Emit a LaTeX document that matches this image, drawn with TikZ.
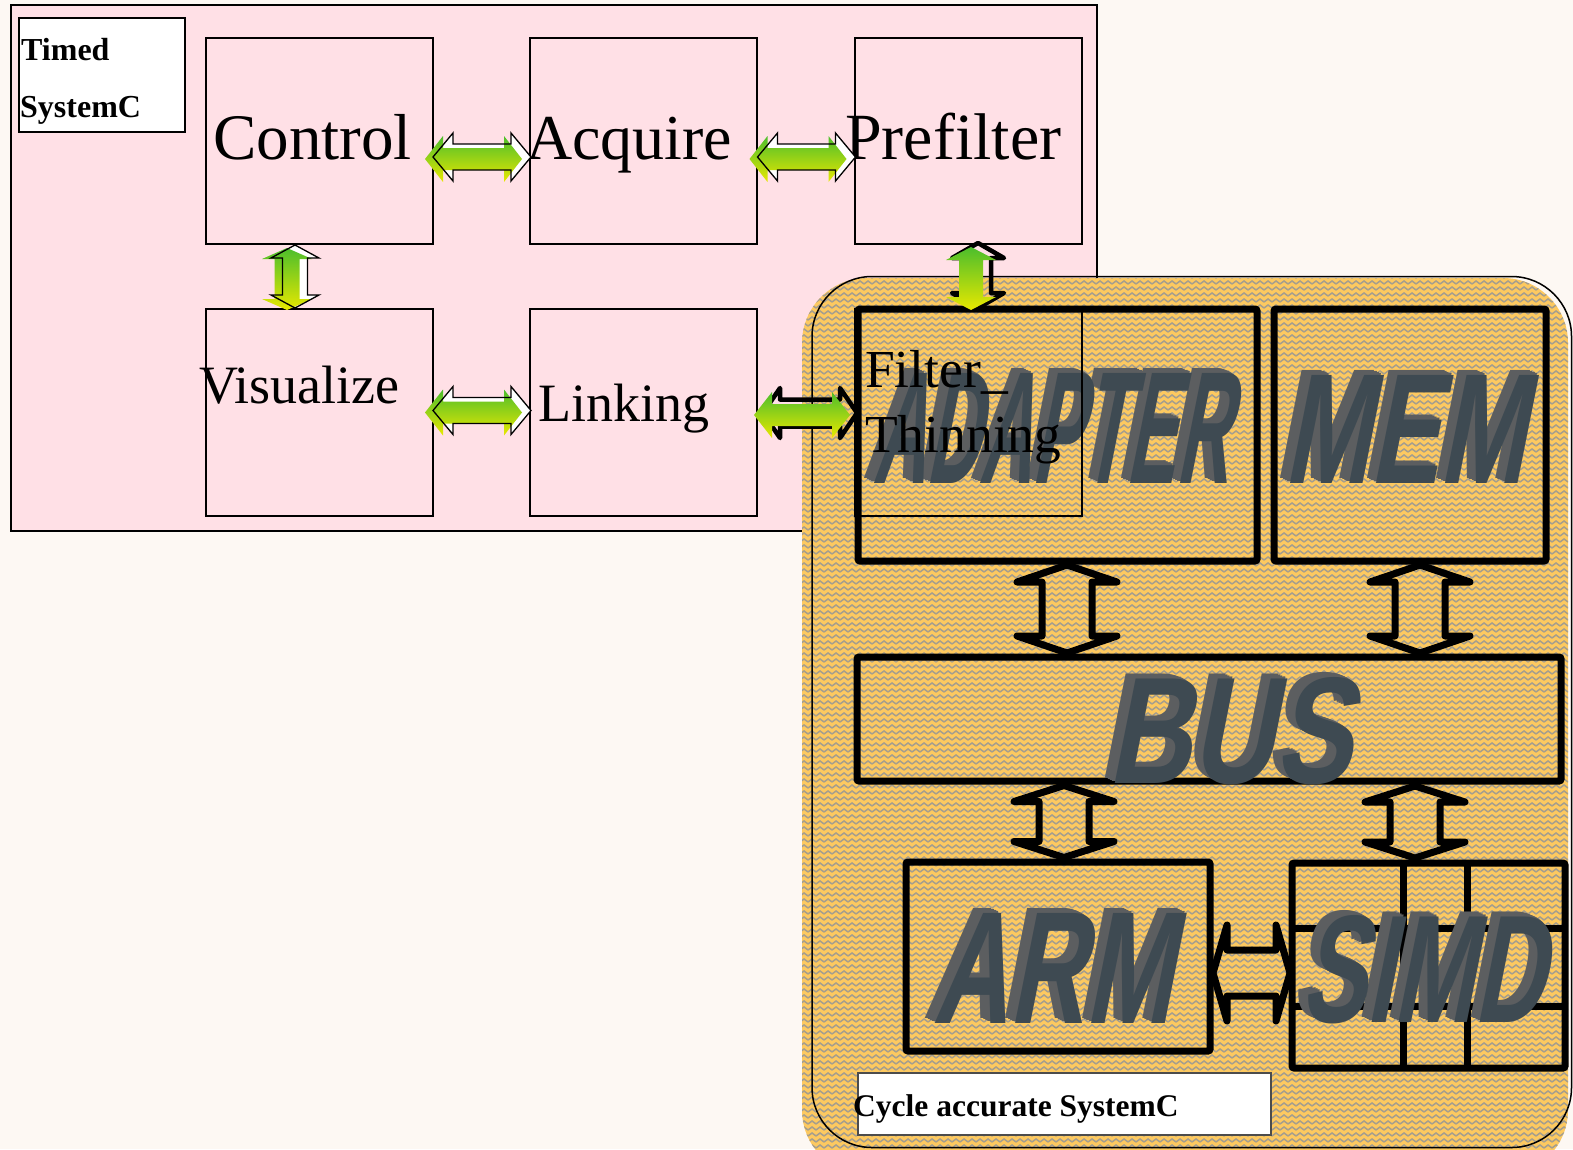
\documentclass[tikz,border=0pt]{standalone}
\usepackage{fontspec}
\usepackage{graphicx}
\setmainfont{Liberation Serif}
\newfontfamily\threedfont{Liberation Sans}
\usetikzlibrary{calc,patterns}

\definecolor{cream}{RGB}{253,248,243}
\definecolor{pinkbg}{RGB}{255,224,230}
\definecolor{ochre}{RGB}{253,201,96}
\definecolor{weave}{RGB}{165,158,142}
\definecolor{agreen}{RGB}{76,190,44}
\definecolor{ayellow}{RGB}{232,232,0}
\definecolor{slate}{RGB}{62,74,82}
\definecolor{slateside}{RGB}{92,94,96}

% woven texture of the cycle-accurate region
\pgfdeclarepatternformonly{herring}{\pgfqpoint{-1pt}{-1pt}}{\pgfqpoint{9pt}{7pt}}{\pgfqpoint{8pt}{6pt}}{%
  \pgfsetlinewidth{1.5pt}%
  \pgfpathmoveto{\pgfqpoint{0pt}{1pt}}%
  \pgfpathlineto{\pgfqpoint{4pt}{4pt}}%
  \pgfpathlineto{\pgfqpoint{8pt}{1pt}}%
  \pgfusepath{stroke}}

% horizontal double block arrow: style, centre, half length, head length, head half width, shaft half width
\newcommand\HArrow[6]{%
  \path[#1] #2 ++({-#3},0) -- ++({#4},{-#5}) -- ++(0,{#5-#6}) -- ++({2*#3-2*#4},0)
    -- ++(0,{#6-#5}) -- ++({#4},{#5}) -- ++({-#4},{#5}) -- ++(0,{#6-#5})
    -- ++({-(2*#3-2*#4)},0) -- ++(0,{#5-#6}) -- cycle;}
% vertical double block arrow, same parameters
\newcommand\VArrow[6]{%
  \path[#1] #2 ++(0,{-#3}) -- ++({-#5},{#4}) -- ++({#5-#6},0) -- ++(0,{2*#3-2*#4})
    -- ++({#6-#5},0) -- ++({#5},{#4}) -- ++({#5},{-#4}) -- ++({#6-#5},0)
    -- ++(0,{-(2*#3-2*#4)}) -- ++({#5-#6},0) -- cycle;}

% one layer of the extruded lettering, pushed back by #1 steps
\newcommand\DepthLayer[4]{%
  \rlap{\kern-\dimexpr 2.6pt*#1\relax\raisebox{\dimexpr 1.2pt*#1\relax}{%
    \textcolor{slateside}{\resizebox{#2}{#3}{\threedfont\bfseries #4}}}}}
% extruded slanted block lettering: name, base point, width, height, word
\newcommand\Solid[5]{%
  \begin{scope}[shift={#2}, xslant=0.2]
    \node[anchor=base west, inner sep=0pt, transform shape] (#1) at (0,0)
      {\DepthLayer{4}{#3}{#4}{#5}\DepthLayer{3}{#3}{#4}{#5}\DepthLayer{2}{#3}{#4}{#5}\DepthLayer{1}{#3}{#4}{#5}%
       \textcolor{slate}{\resizebox{#3}{#4}{\threedfont\bfseries #5}}};
  \end{scope}}

\tikzset{
  blk/.style={draw=black, line width=1.3pt, rectangle, inner sep=0pt, outer sep=0pt},
  hw/.style={draw=black, line width=7pt, rectangle, rounded corners=2pt, inner sep=0pt, outer sep=0pt},
  tag/.style={draw=black, fill=white, line width=1.3pt, rectangle, inner sep=0pt, outer sep=0pt},
  lbl/.style={anchor=base west, inner sep=0pt},
  grad/.style={top color=agreen, bottom color=ayellow},
  thinout/.style={draw=black, line width=1.3pt},
  thickout/.style={draw=black, line width=4.5pt, line join=round},
  hwarrow/.style={draw=black, line width=7pt, line join=round, line cap=round},
}

\begin{document}
\begin{tikzpicture}[x=1pt, y=-1pt]
\useasboundingbox (0,0) rectangle (1573,1149);
\clip (0,0) rectangle (1573,1149);
\fill[cream] (0,0) rectangle (1573,1149);

% ---------- timed SystemC layer ----------
\node[blk, fill=pinkbg, minimum width=1086pt, minimum height=526pt] (timed) at (554,268) {};
\node[tag, minimum width=166pt, minimum height=114pt] (timedtag) at (102,75) {};
\node[lbl, font=\bfseries\fontsize{32}{36}\selectfont] (timedA) at (21,60) {Timed};
\node[lbl, font=\bfseries\fontsize{32}{36}\selectfont] (timedB) at (20,117) {SystemC};

\node[blk, minimum width=227pt, minimum height=206pt] (ctrl) at (319.5,141) {};
\node[blk, minimum width=227pt, minimum height=206pt] (acq)  at (643.5,141) {};
\node[blk, minimum width=227pt, minimum height=206pt] (pref) at (968.5,141) {};
\node[blk, minimum width=227pt, minimum height=207pt] (vis)  at (319.5,412.5) {};
\node[blk, minimum width=227pt, minimum height=207pt] (link) at (643.5,412.5) {};

\node[lbl, font=\fontsize{65}{72}\selectfont] (ctrlT) at (213,159) {Control};
\node[lbl, font=\fontsize{64}{72}\selectfont] (acqT)  at (526,159) {Acquire};
\node[lbl, font=\fontsize{66}{72}\selectfont] (prefT) at (845,159) {Prefilter};
\node[lbl, font=\fontsize{54}{60}\selectfont] (visT)  at (199,403) {Visualize};
\node[lbl, font=\fontsize{54}{60}\selectfont] (linkT) at (538,421) {Linking};

% green arrows between the timed blocks
\HArrow{fill=white}{($(ctrl.east)!.5!(acq.west)+(0.5,16)$)}{49}{20}{24}{13}
\HArrow{grad}{($(ctrl.east)!.5!(acq.west)+(-8,18)$)}{48.5}{18}{23}{11}
\HArrow{thinout}{($(ctrl.east)!.5!(acq.west)+(0.5,16)$)}{49}{20}{24}{13}

\HArrow{fill=white}{($(acq.east)!.5!(pref.west)+(0.5,16)$)}{49}{20}{24}{13}
\HArrow{grad}{($(acq.east)!.5!(pref.west)+(-8,18)$)}{48.5}{18}{23}{11}
\HArrow{thinout}{($(acq.east)!.5!(pref.west)+(0.5,16)$)}{49}{20}{24}{13}

\HArrow{fill=white}{($(vis.east)!.5!(link.west)+(0.5,-2)$)}{49}{20}{24}{13}
\HArrow{grad}{($(vis.east)!.5!(link.west)+(-8,0)$)}{48.5}{18}{23}{11}
\HArrow{thinout}{($(vis.east)!.5!(link.west)+(0.5,-2)$)}{49}{20}{24}{13}

\VArrow{fill=white}{($(ctrl.south)!.5!(vis.north)+(-24.5,0)$)}{31.5}{13}{24}{12.5}
\VArrow{grad}{($(ctrl.south)!.5!(vis.north)+(-32.5,2.5)$)}{31}{11}{25}{12.5}
\VArrow{thinout}{($(ctrl.south)!.5!(vis.north)+(-24.5,0)$)}{31.5}{13}{24}{12.5}

% ---------- cycle accurate layer ----------
\fill[ochre, rounded corners=65pt] (802,278) rectangle (1568,1175);
\fill[pattern=herring, pattern color=weave, rounded corners=65pt] (802,278) rectangle (1568,1175);
\draw[black, line width=1.5pt, rounded corners=60pt] (812,276.5) rectangle (1571.5,1147.5);

\node[hw, minimum width=399pt, minimum height=252pt] (adapter) at (1057.5,435) {};
\node[hw, minimum width=272pt, minimum height=252pt] (mem) at (1410,435) {};
\node[hw, minimum width=704pt, minimum height=124pt] (bus) at (1209,719) {};
\node[hw, minimum width=304pt, minimum height=189pt] (arm) at (1058,956.5) {};
\node[hw, minimum width=273pt, minimum height=205pt] (simd) at (1428.5,965.5) {};
\draw[black, line width=7pt] ($(simd.north west)+(0,65)$) -- ($(simd.north east)+(0,65)$);
\draw[black, line width=7pt] ($(simd.north west)+(0,143)$) -- ($(simd.north east)+(0,143)$);
\draw[black, line width=7pt] ($(simd.north west)+(111,0)$) -- ($(simd.south west)+(111,0)$);
\draw[black, line width=7pt] ($(simd.north west)+(175,0)$) -- ($(simd.south west)+(175,0)$);

\VArrow{hwarrow}{($(adapter.south)!.5!(bus.north -| adapter.south)+(9.5,0)$)}{44}{17}{50}{25}
\VArrow{hwarrow}{($(mem.south)!.5!(bus.north -| mem.south)+(10,0)$)}{44}{17}{50}{25}
\VArrow{hwarrow}{($(arm.north)!.5!(bus.south -| arm.north)+(6,0)$)}{36}{16}{50}{25}
\VArrow{hwarrow}{($(simd.north)!.5!(bus.south -| simd.north)+(-13.5,0)$)}{36}{16}{50}{25}
\HArrow{hwarrow}{($(arm.east)!.5!(simd.west)+(0.5,12)$)}{38.5}{14}{48}{23}

\Solid{adapterT}{(872,483)}{356pt}{110pt}{ADAPTER}
\Solid{memT}{(1283,483)}{242pt}{108pt}{MEM}
\Solid{busT}{(1107,783)}{244pt}{106pt}{BUS}
\Solid{armT}{(932,1023)}{240pt}{110pt}{ARM}
\Solid{simdT}{(1300,1022)}{244pt}{107pt}{SIMD}

% filter block of the timed layer, lying over the adapter
\node[blk, minimum width=227pt, minimum height=207pt] (filt) at (968.5,412.5) {};
\node[lbl, font=\fontsize{53.5}{60}\selectfont] (filtA) at (865,387) {Filter\_};
\node[lbl, font=\fontsize{53.5}{60}\selectfont] (filtB) at (865,452) {Thinning};

\HArrow{thickout}{($(link.east)!.5!(filt.west)+(4,0.5)$)}{47}{17}{25}{13.5}
\HArrow{grad}{($(link.east)!.5!(filt.west)+(-4,2.5)$)}{48}{18}{23}{11}
\VArrow{thickout}{($(pref.south)!.5!(filt.north)+(9.5,-1)$)}{32.5}{15}{26}{13}
\VArrow{grad}{($(pref.south)!.5!(filt.north)+(2.5,2)$)}{31.5}{13}{25}{12}

\node[tag, draw=black!70, minimum width=413pt, minimum height=62pt] (cycletag) at (1064.5,1104) {};
\node[lbl, font=\bfseries\fontsize{31.5}{36}\selectfont] (cycleT) at (853,1116) {Cycle accurate SystemC};
\end{tikzpicture}
\end{document}
